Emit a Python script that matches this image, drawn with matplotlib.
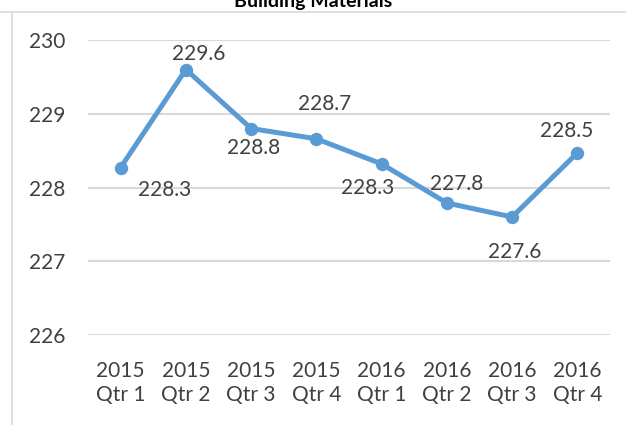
import matplotlib
matplotlib.use("Agg")
import matplotlib.pyplot as plt
from matplotlib.lines import Line2D

categories = ["2015\nQtr 1", "2015\nQtr 2", "2015\nQtr 3", "2015\nQtr 4",
              "2016\nQtr 1", "2016\nQtr 2", "2016\nQtr 3", "2016\nQtr 4"]
values = [228.27, 229.6, 228.8, 228.66, 228.32, 227.79, 227.6, 228.47]
label_offsets = [(32, -16), (9, 11.5), (2, -14), (6, 25), (-10, -17.5), (7, 14), (2, -25), (-8, 16)]
yticks = [226, 227, 228, 229, 230]

plt.rcParams['font.family'] = ['Lato', 'DejaVu Sans']
color = "#5B9BD5"
text_color = "#404040"

fig = plt.figure(figsize=(6.26, 4.25), dpi=100)
ax = fig.add_axes([88/626, 1-335/425, 522/626, 295/425])

x = list(range(len(values)))
ax.plot(x, values, color=color, lw=3.6, marker='o', ms=8.6, solid_capstyle='round', zorder=3)
for xi, v, off in zip(x, values, label_offsets):
    ax.annotate(f"{v:.1f}", (xi, v), xytext=off, textcoords='offset points',
                ha='center', va='center', fontsize=15, color=text_color)

ax.set_xlim(-0.5, len(values) - 0.5)
ax.set_ylim(226, 230)
ax.set_yticks(yticks)
ax.set_yticklabels([str(t) for t in yticks])
ax.set_xticks(x)
ax.set_xticklabels(categories, linespacing=1.25)
ax.tick_params(axis='both', length=0, labelsize=15, labelcolor=text_color)
ax.tick_params(axis='y', pad=16.5)
ax.tick_params(axis='x', pad=19)
ax.yaxis.grid(True, color="#D9D9D9", lw=1.5)
ax.set_axisbelow(True)
for s in ax.spines.values():
    s.set_visible(False)

fig.text(0.5, 1 - 7/425, "Building Materials", ha='center', va='baseline',
         fontsize=14, fontweight='bold', color='black')
fig.add_artist(Line2D([0, 1], [1 - 11.5/425, 1 - 11.5/425], transform=fig.transFigure,
                      color="#D9D9D9", lw=1.2))
fig.add_artist(Line2D([11.5/626, 11.5/626], [0, 1 - 11.5/425], transform=fig.transFigure,
                      color="#D9D9D9", lw=1.2))

fig.savefig("out.png", dpi=100)
